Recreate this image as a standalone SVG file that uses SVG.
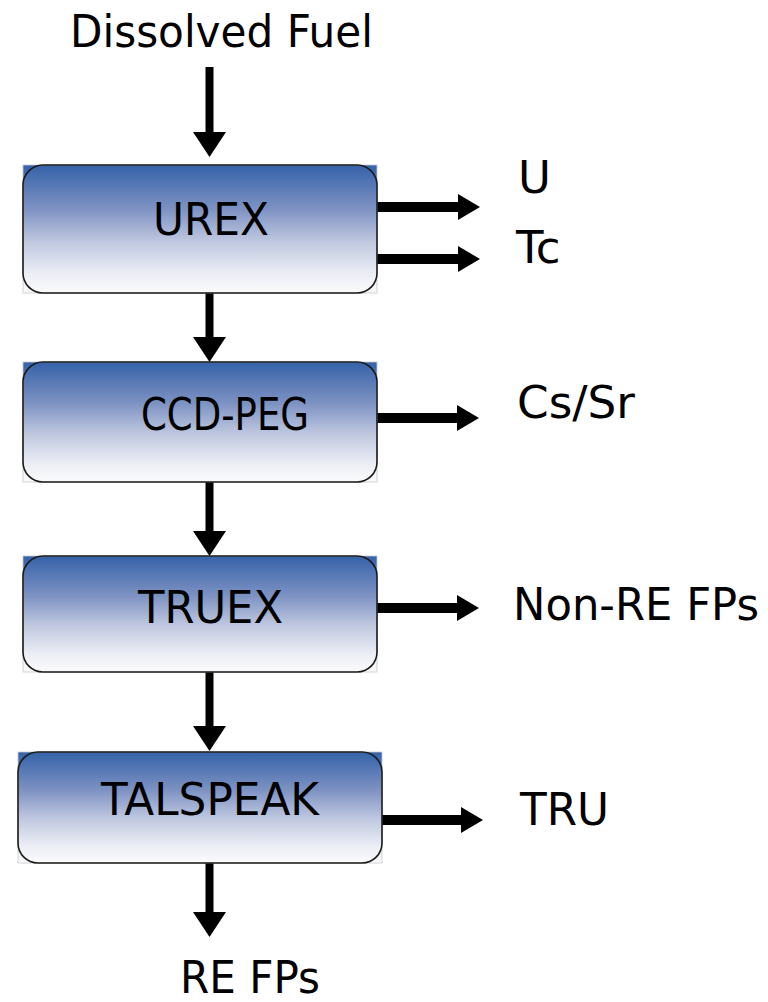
<svg xmlns="http://www.w3.org/2000/svg" width="768" height="1002" viewBox="0 0 768 1002">
  <style>
    .lbl { font-family: "DejaVu Sans", Verdana, sans-serif; font-size: 45px; fill: #000; }
    .box { stroke: #1a1a1a; stroke-width: 1.6; fill: none; }
    .bg { fill: url(#grad); stroke: #c8c8c8; stroke-width: 0.8; }
    .v { stroke: #000; stroke-width: 8; fill: none; marker-end: url(#headV); }
    .h { stroke: #000; stroke-width: 10; fill: none; marker-end: url(#headH); }
  </style>
  <defs>
    <linearGradient id="grad" x1="0" y1="0" x2="0" y2="1">
      <stop offset="0" stop-color="#3562a9"/>
      <stop offset="0.35" stop-color="#7f93c3"/>
      <stop offset="0.6" stop-color="#c0c8e0"/>
      <stop offset="0.85" stop-color="#eceef5"/>
      <stop offset="1" stop-color="#fbfbfc"/>
    </linearGradient>
    <marker id="headV" markerUnits="userSpaceOnUse" viewBox="0 0 25 33" refX="1" refY="16.5" markerWidth="25" markerHeight="33" orient="auto">
      <path d="M0,0 L25,16.5 L0,33 Z" fill="#000"/>
    </marker>
    <marker id="headH" markerUnits="userSpaceOnUse" viewBox="0 0 22 26" refX="1" refY="13" markerWidth="22" markerHeight="26" orient="auto">
      <path d="M0,0 L22,13 L0,26 Z" fill="#000"/>
    </marker>
  </defs>
  <rect width="768" height="1002" fill="#fff"/>

  <g id="connectors">
    <line class="v" x1="209.5" y1="67" x2="209.5" y2="133"/>
    <line class="v" x1="209.5" y1="293" x2="209.5" y2="338"/>
    <line class="v" x1="209.5" y1="482" x2="209.5" y2="532"/>
    <line class="v" x1="209.5" y1="672" x2="209.5" y2="727"/>
    <line class="v" x1="209.5" y1="863" x2="209.5" y2="913"/>
    <line class="h" x1="377" y1="207" x2="459" y2="207"/>
    <line class="h" x1="377" y1="259" x2="459" y2="259"/>
    <line class="h" x1="377" y1="418" x2="458" y2="418"/>
    <line class="h" x1="377" y1="608" x2="458" y2="608"/>
    <line class="h" x1="382" y1="820" x2="462" y2="820"/>
  </g>

  <g id="input">
    <text class="lbl" x="70" y="47" textLength="303" lengthAdjust="spacingAndGlyphs">Dissolved Fuel</text>
  </g>

  <g id="urex">
    <rect class="bg" x="23" y="165" width="354" height="128"/>
    <rect class="box" x="23" y="165" width="354" height="128" rx="20" ry="20"/>
    <text class="lbl" x="153" y="235" textLength="116" lengthAdjust="spacingAndGlyphs">UREX</text>
  </g>

  <g id="ccdpeg">
    <rect class="bg" x="23" y="362" width="354" height="120"/>
    <rect class="box" x="23" y="362" width="354" height="120" rx="20" ry="20"/>
    <text class="lbl" x="141" y="430" textLength="168" lengthAdjust="spacingAndGlyphs">CCD-PEG</text>
  </g>

  <g id="truex">
    <rect class="bg" x="23" y="556" width="354" height="116"/>
    <rect class="box" x="23" y="556" width="354" height="116" rx="20" ry="20"/>
    <text class="lbl" x="138" y="623" textLength="145" lengthAdjust="spacingAndGlyphs">TRUEX</text>
  </g>

  <g id="talspeak">
    <rect class="bg" x="18" y="752" width="364" height="111"/>
    <rect class="box" x="18" y="752" width="364" height="111" rx="20" ry="20"/>
    <text class="lbl" x="101" y="815" textLength="218" lengthAdjust="spacingAndGlyphs">TALSPEAK</text>
  </g>

  <g id="out-u"><text class="lbl" x="518" y="193">U</text></g>
  <g id="out-tc"><text class="lbl" x="516" y="263">Tc</text></g>
  <g id="out-cssr"><text class="lbl" x="517" y="418" textLength="118" lengthAdjust="spacingAndGlyphs">Cs/Sr</text></g>
  <g id="out-nonre"><text class="lbl" x="513" y="620" textLength="246" lengthAdjust="spacingAndGlyphs">Non-RE FPs</text></g>
  <g id="out-tru"><text class="lbl" x="520" y="825" textLength="89" lengthAdjust="spacingAndGlyphs">TRU</text></g>
  <g id="out-refps"><text class="lbl" x="180" y="993" textLength="140" lengthAdjust="spacingAndGlyphs">RE FPs</text></g>
</svg>
